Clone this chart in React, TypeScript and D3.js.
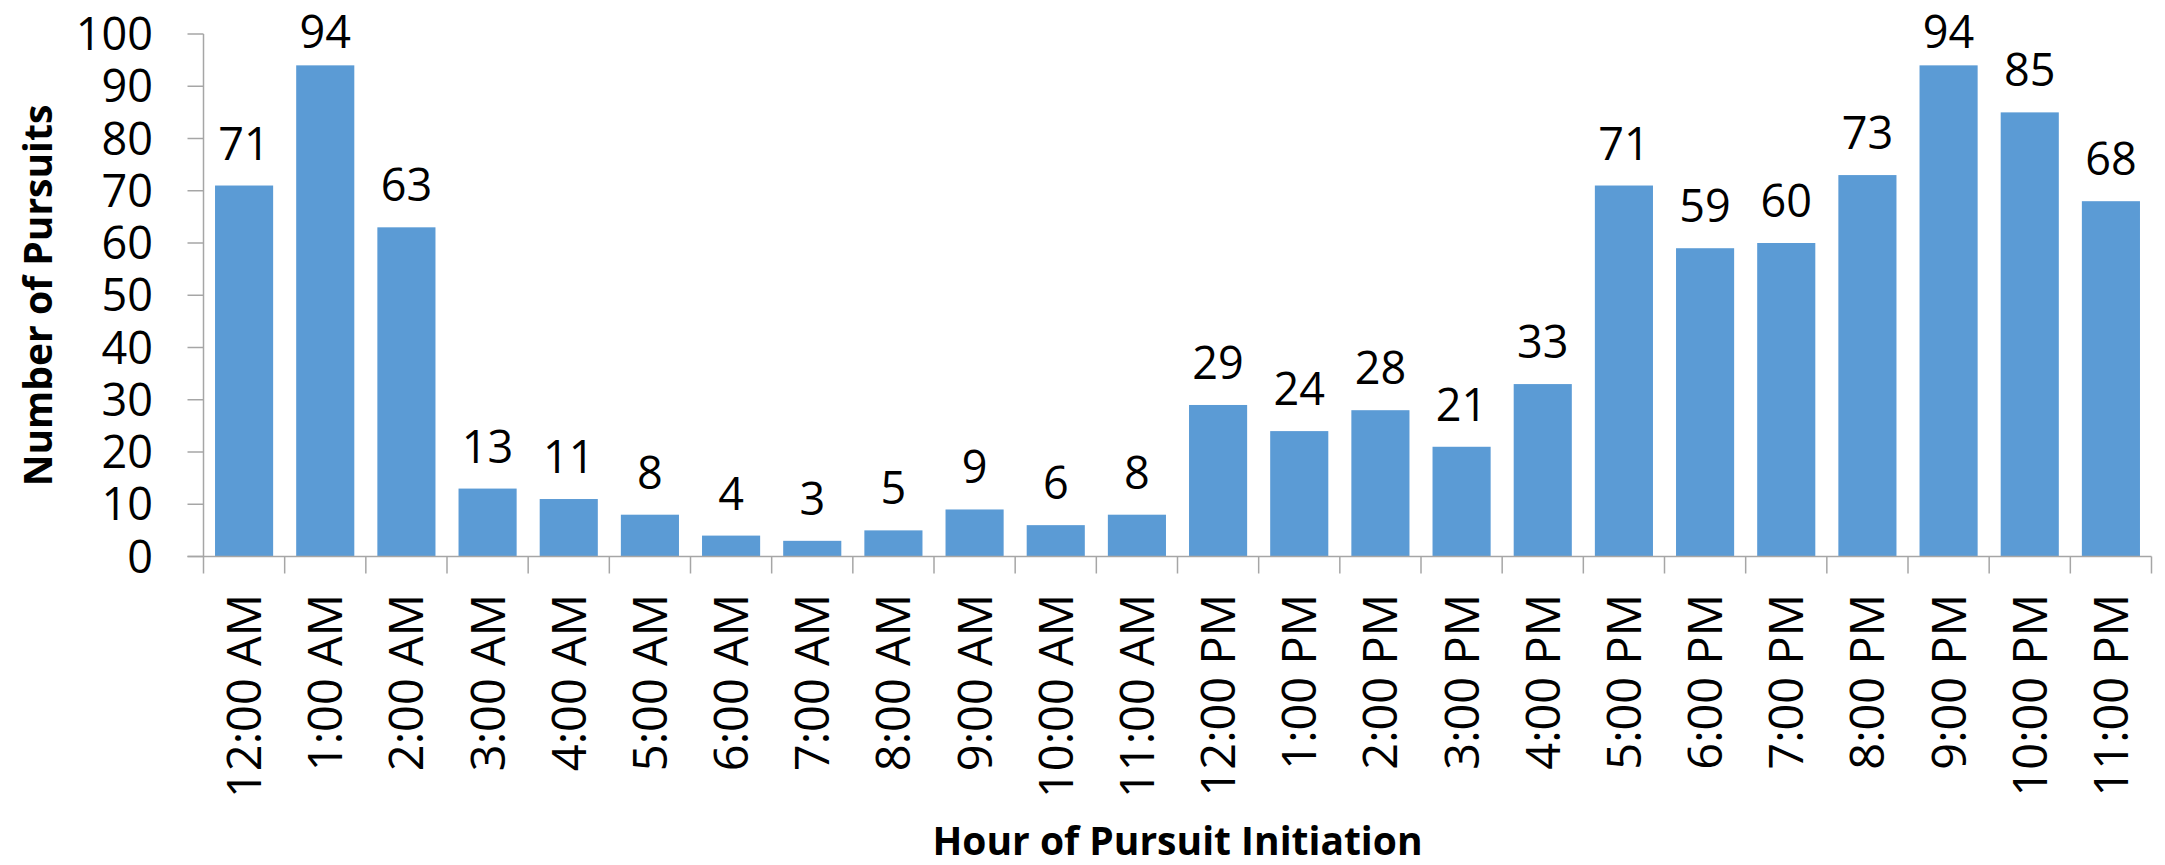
import React from "react";
import * as d3 from "d3";

const categories = [
  "12:00 AM", "1:00 AM", "2:00 AM", "3:00 AM", "4:00 AM", "5:00 AM",
  "6:00 AM", "7:00 AM", "8:00 AM", "9:00 AM", "10:00 AM", "11:00 AM",
  "12:00 PM", "1:00 PM", "2:00 PM", "3:00 PM", "4:00 PM", "5:00 PM",
  "6:00 PM", "7:00 PM", "8:00 PM", "9:00 PM", "10:00 PM", "11:00 PM",
];
const values = [71, 94, 63, 13, 11, 8, 4, 3, 5, 9, 6, 8, 29, 24, 28, 21, 33, 71, 59, 60, 73, 94, 85, 68];
const yTicks = [0, 10, 20, 30, 40, 50, 60, 70, 80, 90, 100];

const W = 2165;
const H = 865;
const left = 203.5;
const right = 2151.5;
const top = 34;
const bottom = 556.5;
const FONT = "'Open Sans', 'Liberation Sans', sans-serif";
const AXIS = "#A6A6A6";
const BAR = "#5B9BD5";

export default function App() {
  const x = d3.scaleBand<string>().domain(categories).range([left, right]).paddingInner(0.284).paddingOuter(0.142);
  const y = d3.scaleLinear().domain([0, 100]).range([bottom, top]);
  const step = (right - left) / categories.length;

  return (
    <svg width={W} height={H} style={{ position: "absolute", left: 0, top: 0, background: "#fff" }}>
      {/* bars */}
      {values.map((v, i) => (
        <rect
          key={i}
          x={x(categories[i])!}
          y={y(v)}
          width={x.bandwidth()}
          height={y(0) - y(v)}
          fill={BAR}
        />
      ))}
      {/* y axis */}
      <line x1={left} x2={left} y1={top} y2={bottom} stroke={AXIS} strokeWidth={1.5} />
      {yTicks.map((t) => (
        <g key={t}>
          <line x1={left - 16} x2={left} y1={y(t)} y2={y(t)} stroke={AXIS} strokeWidth={1.5} />
          <text x={153} y={y(t)} dy="0.36em" textAnchor="end" fontFamily={FONT} fontSize={45} fill="#000">
            {t}
          </text>
        </g>
      ))}
      {/* x axis */}
      <line x1={left - 16} x2={right} y1={bottom} y2={bottom} stroke={AXIS} strokeWidth={1.5} />
      {d3.range(categories.length + 1).map((i) => (
        <line key={i} x1={left + i * step} x2={left + i * step} y1={bottom} y2={bottom + 17} stroke={AXIS} strokeWidth={1.5} />
      ))}
      {categories.map((c, i) => {
        const cx = x(c)! + x.bandwidth() / 2;
        return (
          <text
            key={c}
            transform={`translate(${cx + 17},594) rotate(-90)`}
            textAnchor="end"
            fontFamily={FONT}
            fontSize={47}
            fill="#000"
          >
            {c}
          </text>
        );
      })}
      {/* value labels */}
      {values.map((v, i) => (
        <text
          key={i}
          x={x(categories[i])! + x.bandwidth() / 2}
          y={Math.max(y(v) - 26, 48)}
          textAnchor="middle"
          fontFamily={FONT}
          fontSize={45}
          fill="#000"
        >
          {v}
        </text>
      ))}
      {/* axis titles */}
      <text
        transform={`translate(52,295.5) rotate(-90)`}
        textAnchor="middle"
        fontFamily={FONT}
        fontWeight="bold"
        fontSize={39}
        fill="#000"
      >
        Number of Pursuits
      </text>
      <text x={1177.5} y={855} textAnchor="middle" fontFamily={FONT} fontWeight="bold" fontSize={39} fill="#000">
        Hour of Pursuit Initiation
      </text>
    </svg>
  );
}
